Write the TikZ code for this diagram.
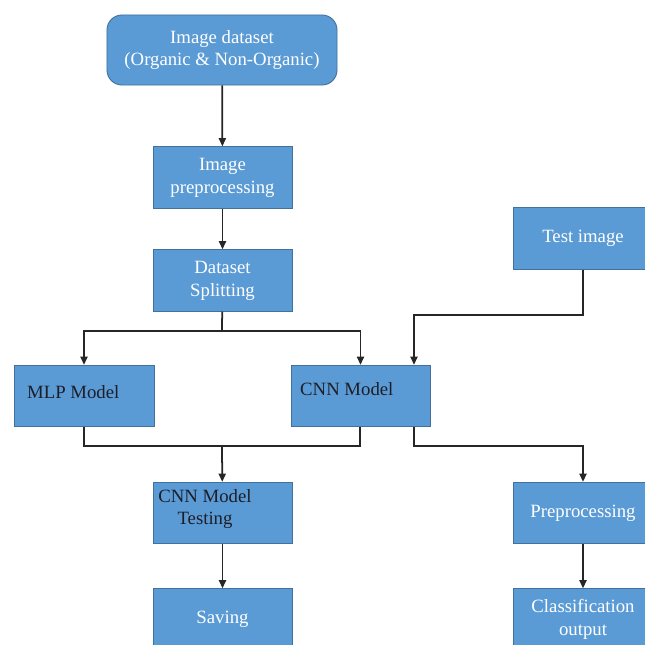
\documentclass[tikz,border=0pt]{standalone}
\usepackage{fontspec}
\setmainfont{Liberation Serif}
\definecolor{BoxBlue}{RGB}{91,155,213}
\definecolor{EdgeBlue}{RGB}{65,113,156}
\definecolor{DarkText}{RGB}{30,30,40}
\usetikzlibrary{arrows.meta,positioning}

\begin{document}
\begin{tikzpicture}[x=0.03cm,y=-0.03cm,
    box/.style={draw=EdgeBlue,fill=BoxBlue,text=white,line width=0.8pt,
                font=\fontsize{16}{19.5}\selectfont,minimum width=4.17cm,
                minimum height=1.84cm,align=center,inner sep=0pt},
    top/.style={box,rounded corners=0.45cm,minimum width=6.9cm,minimum height=2.1cm},
    dtext/.style={text=DarkText,font=\fontsize{16}{19.5}\selectfont,inner sep=0pt,align=center},
    line/.style={black!85,line width=1.5pt},
    arr/.style={line,-{Triangle[length=7pt,width=6pt]}}]
    \useasboundingbox (0,0) rectangle (645,644);
    \clip (0,0) rectangle (645,644);

    \node[top] (data)  at (222,50)    {Image dataset\\(Organic \& Non-Organic)};
    \node[box] (prep)  at (222.5,177.5) {Image\\preprocessing};
    \node[box] (split) at (222.5,280.5) {Dataset\\Splitting};
    \node[box] (test)  at (583,238.5) {Test image};
    \draw[arr] (data)--(prep); \draw[arr] (prep)--(split);

    \node[box,minimum width=4.2cm] (mlp) at (84,396) {};
    \node[box] (cnn) at (360.5,396) {};
    \node[dtext,anchor=west] (mlptxt) at (27,392) {MLP Model};
    \node[dtext,anchor=west] (cnntxt) at (300,389) {CNN Model};

    \coordinate (sj) at (222,331);
    \draw[line] (split)--(sj);
    \draw[arr] (sj)-|(mlp); \draw[arr] (sj)-|(cnn);
    \coordinate (tj) at (414,315);
    \draw[arr] (test)|-(tj)--(tj |- cnn.north);

    \node[box] (testing) at (222.5,513) {};
    \node[dtext] (testtxt) at (205,509) {CNN Model\\Testing};
    \node[box] (pre) at (583,513) {Preprocessing};

    \coordinate (mj) at (222,446);
    \draw[line] (mlp)|-(mj); \draw[line] (cnn.south -| 360,0)|-(mj);
    \draw[arr] (mj)--(testing);
    \coordinate (cj) at (414,446);
    \draw[arr] (cj |- cnn.south)--(cj)-|(pre);

    \node[box] (save) at (222.5,619.5) {Saving};
    \node[box] (cls)  at (583,619.5)   {Classification\\output};
    \draw[arr] (testing)--(save); \draw[arr] (pre)--(cls);
\end{tikzpicture}
\end{document}
